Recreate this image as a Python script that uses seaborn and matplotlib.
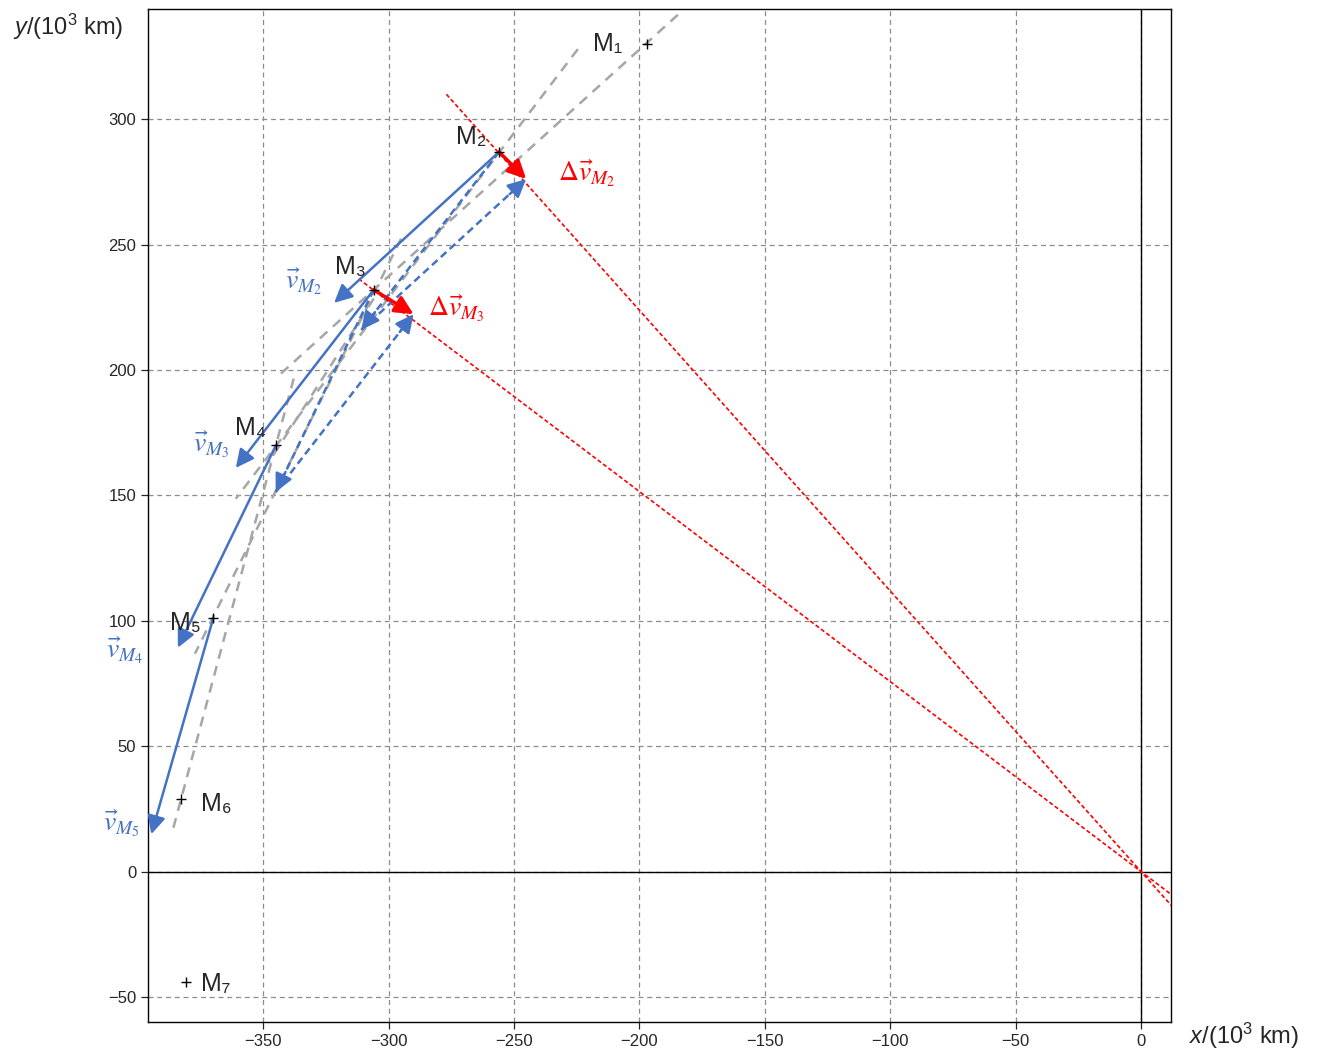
import numpy as np
import pandas as pd
import seaborn as sns
import matplotlib.pyplot as plt

# positions of the moon M1..M7, in 10^3 km
point_names = ['M₁', 'M₂', 'M₃', 'M₄', 'M₅', 'M₆', 'M₇']
point_x = [-197, -256, -306, -345, -370, -383, -381]
point_y = [330, 287, 232, 170, 101, 29, -44]

# velocity vectors drawn at M2..M5
vel_names = ['M_2', 'M_3', 'M_4', 'M_5']
vel_dx = [-65.8, -55.0, -39.1, -24.7]
vel_dy = [-60.2, -71.0, -80.7, -86.1]

# grey dashed chord lines (start / end)
chord_x0 = [-184.7, -224.6, -295.1, -337.9, -306.0]
chord_y0 = [341.7, 328.0, 252.4, 196.6, 228.5]
chord_x1 = [-343.0, -361.0, -377.3, -386.5, -348.0]
chord_y1 = [198.6, 148.7, 86.9, 15.2, 163.0]

# red dashed lines towards the earth (start point, they run through the origin)
ray_x0 = [-277.0, -312.0]
ray_y0 = [310.0, 236.4]

BLUE = '#4472C4'
RED = '#FF0000'

sns.set_style('ticks')
plt.rcParams['font.family'] = ['Liberation Sans', 'DejaVu Sans']
plt.rcParams['mathtext.fontset'] = 'custom'
plt.rcParams['mathtext.rm'] = 'Liberation Sans'
plt.rcParams['mathtext.it'] = 'Liberation Sans:italic'

fig = plt.figure(figsize=(13.17, 10.51), dpi=100)
ax = fig.add_axes([0.1124, 0.0276, 0.7768, 0.9638])
ax.set_xlim(-396, 12)
ax.set_ylim(-60, 344)

ax.set_xticks(np.arange(-350, 1, 50))
ax.set_yticks(np.arange(-50, 301, 50))
ax.grid(True, color='#8c8c8c', lw=0.9, ls=(0, (4, 3)))
ax.tick_params(labelsize=12, labelcolor='#262626', length=5, width=0.9, direction='out')
for s in ax.spines.values():
    s.set_color('k')
    s.set_linewidth(1.0)
ax.axhline(0, color='k', lw=1.0, zorder=1)
ax.axvline(0, color='k', lw=1.0, zorder=1)

# grey chords
for x0, y0, x1, y1 in zip(chord_x0, chord_y0, chord_x1, chord_y1):
    ax.plot([x0, x1], [y0, y1], color='#A6A6A6', lw=1.8, ls=(0, (4, 3)), zorder=2)

# red lines through the origin
for x0, y0 in zip(ray_x0, ray_y0):
    ax.plot([x0, -0.06 * x0], [y0, -0.06 * y0], color=RED, lw=1.2, ls=(0, (2.5, 1.5)), zorder=3)


def arrow(x0, y0, dx, dy, color, dashed=False, lw=1.8, z=4):
    style = dict(arrowstyle='-|>,head_length=0.55,head_width=0.27', mutation_scale=20,
                 color=color, lw=lw, shrinkA=0, shrinkB=0)
    if dashed:
        # dashed shaft, solid head
        ax.plot([x0, x0 + 0.93 * dx], [y0, y0 + 0.93 * dy], color=color, lw=lw,
                ls=(0, (3, 1.8)), zorder=z)
        ax.annotate('', xy=(x0 + dx, y0 + dy), xytext=(x0 + 0.9 * dx, y0 + 0.9 * dy),
                    zorder=z, arrowprops=style)
    else:
        ax.annotate('', xy=(x0 + dx, y0 + dy), xytext=(x0, y0), zorder=z, arrowprops=style)


# solid velocity arrows
for i in range(4):
    arrow(point_x[i + 1], point_y[i + 1], vel_dx[i], vel_dy[i], BLUE)

# velocity-change construction at M2 and M3
for k in range(2):
    px, py = point_x[k + 1], point_y[k + 1]
    arrow(px, py, vel_dx[k + 1], vel_dy[k + 1], BLUE, dashed=True)
    arrow(px + vel_dx[k + 1], py + vel_dy[k + 1], -vel_dx[k], -vel_dy[k], BLUE, dashed=True)
    arrow(px, py, vel_dx[k + 1] - vel_dx[k], vel_dy[k + 1] - vel_dy[k], RED, lw=2.5, z=5)

# points
df = pd.DataFrame({'x': point_x, 'y': point_y})
sns.scatterplot(data=df, x='x', y='y', marker='+', color='k', s=60, linewidth=1.0, ax=ax, zorder=6)
ax.set_xlabel('')
ax.set_ylabel('')

# point labels: offset and alignment
label_off = [(-10, 0, 'right'), (-5, 6, 'right'), (-3, 9, 'right'), (-4, 7, 'right'),
             (-5, -2, 'right'), (8, -2, 'left'), (6, -1, 'left')]
for name, x, y, (ox, oy, ha) in zip(point_names, point_x, point_y, label_off):
    ax.text(x + ox, y + oy, name, fontsize=18, ha=ha, va='center', zorder=7)

# velocity labels
vel_label_pos = [(-333.9, 235.6), (-370.6, 170.3), (-405.3, 88.1), (-406.5, 19.1)]
for name, (tx, ty) in zip(vel_names, vel_label_pos):
    ax.text(tx, ty, r'$\vec{v}_{%s}$' % name, color=BLUE, fontsize=20, ha='center',
            va='center', math_fontfamily='stix', clip_on=False)
dv_label_pos = [(-221.0, 278.7), (-273.2, 224.5)]
for name, (tx, ty) in zip(vel_names[:2], dv_label_pos):
    ax.text(tx, ty, r'$\Delta\vec{v}_{%s}$' % name, color=RED, fontsize=20, ha='center',
            va='center', math_fontfamily='stix', clip_on=False)

fig.text(68 / 1317, 1 - 27 / 1051, r'$y$/(10$^3$ km)', fontsize=17, ha='center', va='center')
fig.text(1244 / 1317, 1 - 1036 / 1051, r'$x$/(10$^3$ km)', fontsize=17, ha='center', va='center')

fig.savefig('out.png', dpi=100)
